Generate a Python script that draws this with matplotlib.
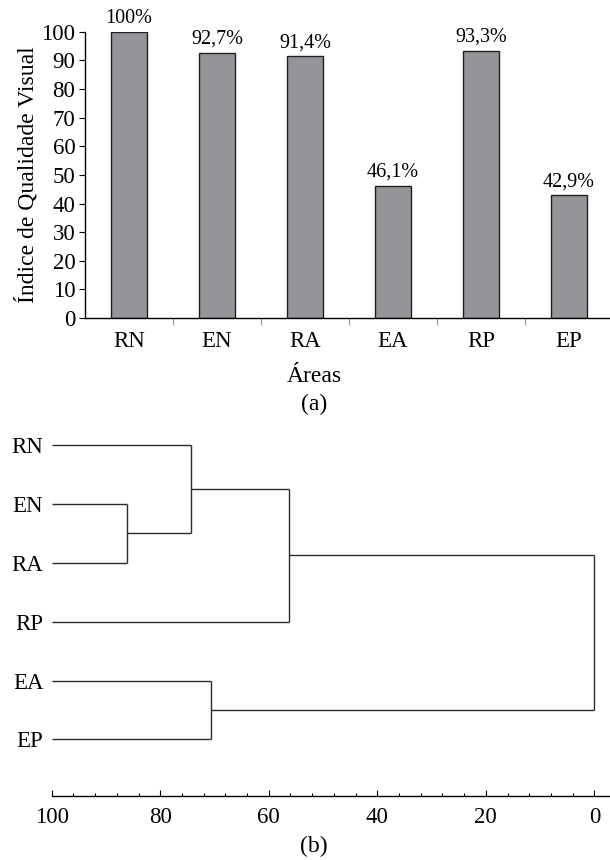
import numpy as np
import matplotlib
matplotlib.use("Agg")
import matplotlib.pyplot as plt

plt.rcParams['font.family'] = ['Liberation Serif', 'DejaVu Serif']
plt.rcParams['axes.linewidth'] = 1.0

# ---- data (a): indice de qualidade visual ----
areas = ["RN", "EN", "RA", "EA", "RP", "EP"]
indice = [100, 92.7, 91.4, 46.1, 93.3, 42.9]
rotulos = ["100%", "92,7%", "91,4%", "46,1%", "93,3%", "42,9%"]

# ---- data (b): dendrograma (similaridade) ----
folhas = ["RN", "EN", "RA", "RP", "EA", "EP"]
# fusoes: (grupo a, grupo b, nivel)
fusoes = [("EN", "RA", 86.1),
          ("RN", "EN+RA", 74.4),
          ("RN+EN+RA", "RP", 56.3),
          ("EA", "EP", 70.6),
          ("RN+EN+RA+RP", "EA+EP", 0.0)]

fig = plt.figure(figsize=(6.1, 8.6), dpi=100)

# ================= (a) =================
ax1 = fig.add_axes([0.1393, 0.6302, 0.8656, 0.3329])
x = np.arange(len(areas))
ax1.bar(x, indice, width=0.41, color="#939598", edgecolor="#231f20", linewidth=1.0)
for xi, v, r in zip(x, indice, rotulos):
    ax1.annotate(r, (xi, v), xytext=(0, 6.5), textcoords="offset points",
                 ha="center", va="baseline", fontsize=14.5)
ax1.set_xlim(-0.5, len(areas) - 0.5)
ax1.set_ylim(0, 100)
ax1.set_yticks(range(0, 101, 10))
ax1.tick_params(axis="y", direction="out", length=4, width=0.8, labelsize=16.5, pad=3)
ax1.set_xticks(x)
ax1.set_xticklabels(areas, fontsize=16.5)
ax1.set_xticks(np.arange(0.5, len(areas) - 0.5, 1.0), minor=True)
ax1.tick_params(axis="x", which="major", length=0, pad=9)
ax1.tick_params(axis="x", which="minor", direction="out", length=5, width=0.8, color="#999999")
ax1.spines["top"].set_visible(False)
ax1.spines["right"].set_visible(False)
ax1.set_ylabel("Índice de Qualidade Visual", fontsize=17, labelpad=2)
fig.text(314 / 610, 1 - 381.7 / 860, "Áreas", ha="center", va="baseline", fontsize=17)
fig.text(314 / 610, 1 - 410 / 860, "(a)", ha="center", va="baseline", fontsize=17)

# ================= (b) =================
ax2 = fig.add_axes([0.0848, 0.0744, 0.9162, 0.4423])
pos_y = {nome: len(folhas) - 1 - i for i, nome in enumerate(folhas)}
pos_x = {nome: 100.0 for nome in folhas}
cor = "#2b2b2b"
for a, b, nivel in fusoes:
    for g in (a, b):
        ax2.plot([pos_x[g], nivel], [pos_y[g], pos_y[g]], color=cor, lw=1.0,
                 solid_capstyle="butt")
    ax2.plot([nivel, nivel], [pos_y[a], pos_y[b]], color=cor, lw=1.0,
             solid_capstyle="butt")
    novo = a + "+" + b
    pos_x[novo] = nivel
    pos_y[novo] = (pos_y[a] + pos_y[b]) / 2.0

ax2.set_xlim(100, -3)
ax2.set_ylim(-0.96, 5.5)
ax2.set_xticks(range(100, -1, -20))
ax2.set_xticks(np.arange(100, -1, -4), minor=True)
ax2.tick_params(axis="x", which="major", direction="in", length=4, width=0.8,
                labelsize=16.5, pad=8)
ax2.tick_params(axis="x", which="minor", direction="in", length=2, width=0.8)
ax2.set_yticks([pos_y[f] for f in folhas])
ax2.set_yticklabels(folhas, fontsize=16.5)
ax2.tick_params(axis="y", length=0, pad=6)
for s in ("top", "right", "left"):
    ax2.spines[s].set_visible(False)
fig.text(314 / 610, 1 - 851.7 / 860, "(b)", ha="center", va="baseline", fontsize=17)

fig.savefig("out.png", dpi=100)
